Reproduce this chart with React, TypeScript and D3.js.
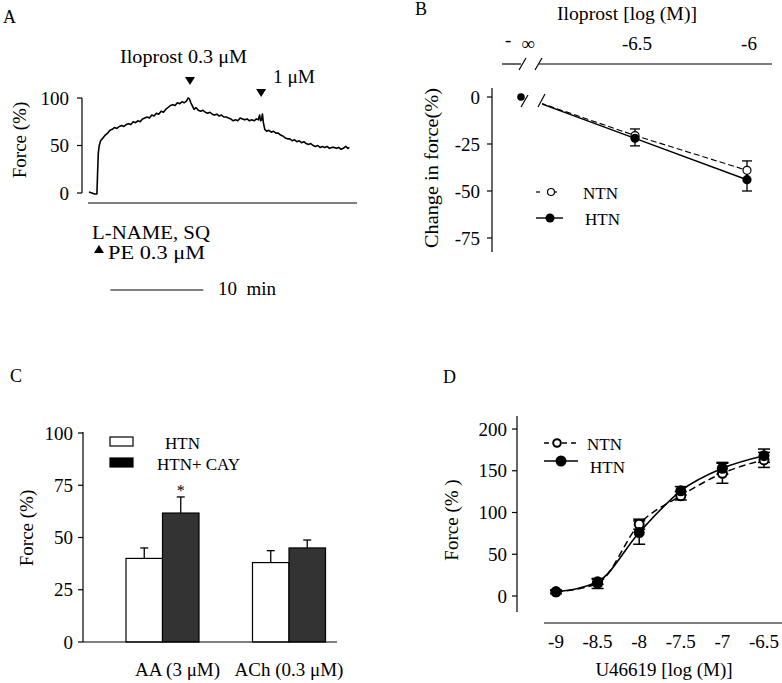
import React from 'react';
import * as d3 from 'd3';

const FONT = '"Liberation Serif", "Times New Roman", Times, serif';

// ---------- Panel A: force trace ----------
const traceTime = [0, 0.3, 0.6, 0.85, 0.92, 1.0, 1.1, 1.25, 1.5, 1.75, 2.0, 2.25, 2.5, 2.75, 3.0, 3.25, 3.5, 3.75, 4.0, 4.25, 4.5, 4.75, 5.0, 5.25, 5.5, 5.75, 6.0, 6.25, 6.5, 6.75, 7.0, 7.25, 7.5, 7.75, 8.0, 8.25, 8.5, 8.75, 9.0, 9.25, 9.5, 9.75, 10.0, 10.25, 10.5, 10.65, 10.8, 10.95, 11.1, 11.3, 11.5, 11.75, 12.0, 12.25, 12.5, 12.75, 13.0, 13.25, 13.5, 13.75, 14.0, 14.25, 14.5, 14.75, 15.0, 15.25, 15.5, 15.75, 16.0, 16.25, 16.5, 16.75, 17.0, 17.25, 17.5, 17.75, 18.0, 18.2, 18.35, 18.45, 18.55, 18.65, 18.75, 18.9, 19.1, 19.35, 19.6, 19.85, 20.1, 20.35, 20.6, 20.85, 21.1, 21.35, 21.6, 21.85, 22.1, 22.35, 22.6, 22.85, 23.1, 23.35, 23.6, 23.85, 24.1, 24.35, 24.6, 24.85, 25.1, 25.35, 25.6, 25.85, 26.1, 26.35, 26.6, 26.85, 27.1, 27.35, 27.6, 27.85, 28.0];
const traceForce = [1, 0, -1, -1, 20, 42, 50, 55, 58, 61, 63, 66, 67, 69, 68, 70, 71, 70, 72, 73, 72, 75, 74, 76, 75, 78, 79, 80, 79, 82, 81, 84, 83, 86, 85, 88, 90, 92, 93, 92, 95, 94, 96, 95, 97, 100, 99, 95, 92, 88, 90, 87, 86, 87, 85, 84, 85, 83, 82, 83, 81, 82, 80, 80, 79, 78, 76, 77, 76, 79, 78, 77, 78, 76, 77, 76, 78, 77, 82, 76, 77, 83, 74, 67, 65, 66, 64, 65, 63, 63, 61, 60, 58, 57, 57, 55, 56, 54, 55, 53, 54, 52, 51, 52, 50, 49, 50, 48, 49, 48, 49, 47, 48, 48, 47, 48, 46, 47, 49, 47, 48];
const aYTicks = [0, 50, 100];
const arrowTimes = [10.75, 18.4];
const arrowLabels = ['Iloprost 0.3 μM', '1 μM'];

// ---------- Panel B: iloprost ----------
const bDoses = [-7, -6.5, -6]; // -7 stands in for -∞
const bTickLabels = ['∞', '-6.5', '-6'];
const bNTN = [0, -20.5, -39];
const bNTNerr = [0, 3.5, 5];
const bHTN = [0, -22, -44];
const bHTNerr = [0, 4, 6];
const bYTicks = [0, -25, -50, -75];

// ---------- Panel C: bars ----------
const cGroups = ['AA (3 μM)', 'ACh (0.3 μM)'];
const cSeries = ['HTN', 'HTN+ CAY'];
const cHTN = [40, 38];
const cHTNerr = [5, 5.7];
const cCAY = [61.7, 45];
const cCAYerr = [7.7, 3.8];
const cYTicks = [0, 25, 50, 75, 100];

// ---------- Panel D: U46619 ----------
const dDoses = [-9, -8.5, -8, -7.5, -7, -6.5];
const dTickLabels = ['-9', '-8.5', '-8', '-7.5', '-7', '-6.5'];
const dNTN = [5, 15, 86, 120, 147, 163];
const dNTNerr = [2, 6, 6, 5, 12, 9];
const dHTN = [5, 17, 76, 126, 153, 168];
const dHTNerr = [2, 3, 14, 5, 7, 8];
const dYTicks = [0, 50, 100, 150, 200];

const T = { fontFamily: FONT, fill: '#000' } as const;

function PanelA() {
  const x = d3.scaleLinear().domain([0, 10]).range([89, 182]);
  const y = d3.scaleLinear().domain([0, 100]).range([193, 98]);
  const pts = traceTime.map((t, i) => [t, traceForce[i]] as [number, number]);
  const line = d3.line<[number, number]>().x(d => x(d[0])).y(d => y(d[1]));
  const arrowTipY = [85, 97];
  const tri = (cx: number, ty: number) => `M${cx - 5},${ty - 8}L${cx + 5},${ty - 8}L${cx},${ty}Z`;
  return (
    <g>
      <text x={3} y={23} fontSize={18} {...T}>A</text>
      <line x1={82} x2={82} y1={y(100)} y2={y(0)} stroke="#000" strokeWidth={1.2} />
      {aYTicks.map(v => (
        <g key={v}>
          <line x1={77} x2={82} y1={y(v)} y2={y(v)} stroke="#000" strokeWidth={1.2} />
          <text x={69} y={y(v)} dy="0.35em" textAnchor="end" fontSize={19} {...T}>{v}</text>
        </g>
      ))}
      <text transform={`translate(26,140) rotate(-90)`} textAnchor="middle" fontSize={19} {...T}>Force (%)</text>
      <line x1={88} x2={357} y1={203} y2={203} stroke="#000" strokeWidth={1.2} />
      <path d={line(pts) || ''} fill="none" stroke="#000" strokeWidth={1.6} strokeLinejoin="round" />
      {arrowTimes.map((t, i) => (
        <path key={i} d={tri(x(t) + 1, arrowTipY[i])} fill="#000" />
      ))}
      <text x={120} y={63} fontSize={19} textLength={127} lengthAdjust="spacingAndGlyphs" {...T}>{arrowLabels[0]}</text>
      <text x={273} y={83} fontSize={19} textLength={42} lengthAdjust="spacingAndGlyphs" {...T}>{arrowLabels[1]}</text>
      <text x={92} y={239} fontSize={19} textLength={118} lengthAdjust="spacingAndGlyphs" {...T}>L-NAME, SQ</text>
      <path d="M94,253L104,253L99,245Z" fill="#000" />
      <text x={108} y={259} fontSize={19} textLength={97} lengthAdjust="spacingAndGlyphs" {...T}>PE 0.3 μM</text>
      <line x1={x(2.3)} x2={x(12.3)} y1={290} y2={290} stroke="#000" strokeWidth={1.2} />
      <text x={218} y={295} fontSize={19} style={{ whiteSpace: 'pre' }} {...T}>10  min</text>
    </g>
  );
}

function PanelB() {
  const x = d3.scaleLinear().domain([-6.5, -6]).range([635, 747]);
  const y = d3.scaleLinear().domain([0, -75]).range([97, 238]);
  const ntn = bDoses.map((d, i) => [d, bNTN[i]] as [number, number]);
  const htn = bDoses.map((d, i) => [d, bHTN[i]] as [number, number]);
  const line = d3.line<[number, number]>().x(d => x(d[0])).y(d => y(d[1]));
  const ax = 492;
  return (
    <g>
      <defs>
        <clipPath id="bclip"><rect x={542} y={60} width={240} height={200} /></clipPath>
      </defs>
      <text x={415} y={15} fontSize={18} {...T}>B</text>
      <text x={557} y={20} fontSize={19} textLength={140} lengthAdjust="spacingAndGlyphs" {...T}>Iloprost [log (M)]</text>
      {/* top axis with break */}
      <line x1={502} x2={521} y1={64} y2={64} stroke="#000" strokeWidth={1.2} />
      <line x1={539} x2={772} y1={64} y2={64} stroke="#000" strokeWidth={1.2} />
      <line x1={519} x2={526} y1={70} y2={58} stroke="#000" strokeWidth={1.2} />
      <line x1={535} x2={542} y1={70} y2={58} stroke="#000" strokeWidth={1.2} />
      {bDoses.map((d, i) => (
        i === 0 ? (
          <g key={i}>
            <text x={x(d) - 18} y={46} fontSize={19} {...T}>-</text>
            <text x={x(d) + 5} y={50} textAnchor="middle" fontSize={19} {...T}>{bTickLabels[i]}</text>
          </g>
        ) : (
          <text key={i} x={x(d) + 2} y={50} textAnchor="middle" fontSize={19} {...T}>{bTickLabels[i]}</text>
        )
      ))}
      {/* left axis */}
      <line x1={ax} x2={ax} y1={88} y2={252} stroke="#000" strokeWidth={1.2} />
      {bYTicks.map(v => (
        <g key={v}>
          <line x1={ax - 5} x2={ax} y1={y(v)} y2={y(v)} stroke="#000" strokeWidth={1.2} />
          <text x={480} y={y(v)} dy="0.35em" textAnchor="end" fontSize={19} {...T}>{v}</text>
        </g>
      ))}
      <text transform={`translate(438,168) rotate(-90)`} textAnchor="middle" fontSize={19} textLength={160} lengthAdjust="spacingAndGlyphs" {...T}>Change in force(%)</text>
      {/* break marks in plot */}
      <line x1={521} x2={528} y1={107} y2={95} stroke="#000" strokeWidth={1.2} />
      <line x1={538} x2={545} y1={107} y2={94} stroke="#000" strokeWidth={1.2} />
      <g clipPath="url(#bclip)">
        <path d={line(ntn) || ''} fill="none" stroke="#000" strokeWidth={1.1} strokeDasharray="6,3" />
        <path d={line(htn) || ''} fill="none" stroke="#000" strokeWidth={1.4} />
      </g>
      {/* error bars */}
      {bDoses.map((d, i) => i === 0 ? null : (
        <g key={'e' + i} stroke="#000" strokeWidth={1.3}>
          <line x1={x(d)} x2={x(d)} y1={y(bNTN[i] + bNTNerr[i])} y2={y(bNTN[i] - bNTNerr[i])} />
          <line x1={x(d) - 5} x2={x(d) + 5} y1={y(bNTN[i] + bNTNerr[i])} y2={y(bNTN[i] + bNTNerr[i])} />
          <line x1={x(d)} x2={x(d)} y1={y(bHTN[i] + bHTNerr[i])} y2={y(bHTN[i] - bHTNerr[i])} />
          <line x1={x(d) - 5} x2={x(d) + 5} y1={y(bHTN[i] - bHTNerr[i])} y2={y(bHTN[i] - bHTNerr[i])} />
        </g>
      ))}
      {bDoses.map((d, i) => i === 0 ? null : (
        <circle key={'n' + i} cx={x(d)} cy={y(bNTN[i])} r={4} fill="#fff" stroke="#000" strokeWidth={1.2} />
      ))}
      {bDoses.map((d, i) => (
        <circle key={'h' + i} cx={x(d) - (i === 0 ? 2 : 0)} cy={y(bHTN[i])} r={i === 0 ? 3.8 : 4.6} fill="#000" />
      ))}
      {/* legend */}
      <line x1={536} x2={540} y1={192} y2={192} stroke="#000" strokeWidth={1.2} />
      <line x1={551} x2={557} y1={192} y2={192} stroke="#000" strokeWidth={1.2} />
      <circle cx={551} cy={192} r={3.5} fill="#fff" stroke="#000" strokeWidth={1.2} />
      <text x={583} y={199} fontSize={17} {...T}>NTN</text>
      <line x1={536} x2={563} y1={218} y2={218} stroke="#000" strokeWidth={1.4} />
      <circle cx={550} cy={218} r={4.5} fill="#000" />
      <text x={585} y={225} fontSize={17} {...T}>HTN</text>
    </g>
  );
}

function PanelC() {
  const y = d3.scaleLinear().domain([0, 100]).range([642, 433]);
  const gx = d3.scalePoint<string>().domain(cGroups).range([162.5, 289]);
  const sx = d3.scaleBand<string>().domain(cSeries).range([-36.5, 36.5]);
  const bw = sx.bandwidth();
  const vals = [cHTN, cCAY];
  const errs = [cHTNerr, cCAYerr];
  const fills = ['#fff', '#333'];
  const labelShift = [15, 0];
  return (
    <g>
      <text x={10} y={382} fontSize={18} {...T}>C</text>
      <line x1={83} x2={83} y1={432} y2={642} stroke="#000" strokeWidth={1.2} />
      {cYTicks.map(v => (
        <g key={v}>
          <line x1={78} x2={83} y1={y(v)} y2={y(v)} stroke="#000" strokeWidth={1.2} />
          <text x={73} y={y(v)} dy="0.35em" textAnchor="end" fontSize={19} {...T}>{v}</text>
        </g>
      ))}
      <text transform={`translate(33,528) rotate(-90)`} textAnchor="middle" fontSize={19} {...T}>Force (%)</text>
      {cGroups.map((g, gi) => (
        <g key={g}>
          {cSeries.map((s, si) => {
            const x0 = (gx(g) || 0) + (sx(s) || 0);
            const v = vals[si][gi];
            const e = errs[si][gi];
            const cx = x0 + bw / 2;
            return (
              <g key={s}>
                <line x1={cx} x2={cx} y1={y(v)} y2={y(v + e)} stroke="#000" strokeWidth={1.3} />
                <line x1={cx - 4} x2={cx + 4} y1={y(v + e)} y2={y(v + e)} stroke="#000" strokeWidth={1.3} />
                <rect x={x0} y={y(v)} width={bw} height={y(0) - y(v)} fill={fills[si]} stroke="#000" strokeWidth={1.2} />
              </g>
            );
          })}
          <text x={(gx(g) || 0) + labelShift[gi]} y={676} textAnchor="middle" fontSize={19} {...T}>{g}</text>
        </g>
      ))}
      <text x={(gx(cGroups[0]) || 0) + (sx(cSeries[1]) || 0) + bw / 2} y={496} textAnchor="middle" fontSize={16} {...T}>*</text>
      <line x1={83} x2={337} y1={642} y2={642} stroke="#000" strokeWidth={1.2} />
      {/* legend */}
      <rect x={110} y={437} width={23} height={9} fill={fills[0]} stroke="#000" strokeWidth={1.2} />
      <text x={165} y={449} fontSize={17} {...T}>{cSeries[0]}</text>
      <rect x={110} y={458} width={23} height={9} fill="#000" stroke="#000" strokeWidth={1.2} />
      <text x={157} y={470} fontSize={17} {...T}>{cSeries[1]}</text>
    </g>
  );
}

function PanelD() {
  const x = d3.scaleLinear().domain([-9, -6.5]).range([556, 764]);
  const y = d3.scaleLinear().domain([0, 200]).range([596, 429]);
  const ntn = dDoses.map((d, i) => [d, dNTN[i]] as [number, number]);
  const htn = dDoses.map((d, i) => [d, dHTN[i]] as [number, number]);
  const line = d3.line<[number, number]>().x(d => x(d[0])).y(d => y(d[1])).curve(d3.curveMonotoneX);
  return (
    <g>
      <text x={443} y={383} fontSize={18} {...T}>D</text>
      <line x1={517} x2={517} y1={416} y2={612} stroke="#000" strokeWidth={1.2} />
      {dYTicks.map(v => (
        <g key={v}>
          <line x1={512} x2={517} y1={y(v)} y2={y(v)} stroke="#000" strokeWidth={1.2} />
          <text x={507} y={y(v)} dy="0.35em" textAnchor="end" fontSize={19} {...T}>{v}</text>
        </g>
      ))}
      <text transform={`translate(458,520) rotate(-90)`} textAnchor="middle" fontSize={19} style={{ whiteSpace: 'pre' }} {...T}>Force (% )</text>
      <line x1={544} x2={782} y1={623} y2={623} stroke="#000" strokeWidth={1.2} />
      {dDoses.map((d, i) => (
        <text key={d} x={x(d)} y={648} textAnchor="middle" fontSize={19} {...T}>{dTickLabels[i]}</text>
      ))}
      <text x={664} y={676} textAnchor="middle" fontSize={19} {...T}>U46619 [log (M)]</text>
      <path d={line(ntn) || ''} fill="none" stroke="#000" strokeWidth={1.5} strokeDasharray="7,4" />
      <path d={line(htn) || ''} fill="none" stroke="#000" strokeWidth={1.6} />
      {dDoses.map((d, i) => (
        <g key={'e' + d} stroke="#000" strokeWidth={1.5}>
          <line x1={x(d)} x2={x(d)} y1={y(dNTN[i] + dNTNerr[i])} y2={y(dNTN[i] - dNTNerr[i])} />
          <line x1={x(d) - 6} x2={x(d) + 6} y1={y(dNTN[i] + dNTNerr[i])} y2={y(dNTN[i] + dNTNerr[i])} />
          <line x1={x(d) - 6} x2={x(d) + 6} y1={y(dNTN[i] - dNTNerr[i])} y2={y(dNTN[i] - dNTNerr[i])} />
          <line x1={x(d)} x2={x(d)} y1={y(dHTN[i] + dHTNerr[i])} y2={y(dHTN[i] - dHTNerr[i])} />
          <line x1={x(d) - 6} x2={x(d) + 6} y1={y(dHTN[i] + dHTNerr[i])} y2={y(dHTN[i] + dHTNerr[i])} />
          <line x1={x(d) - 6} x2={x(d) + 6} y1={y(dHTN[i] - dHTNerr[i])} y2={y(dHTN[i] - dHTNerr[i])} />
        </g>
      ))}
      {dDoses.map((d, i) => (
        <circle key={'n' + d} cx={x(d)} cy={y(dNTN[i])} r={4.5} fill="#fff" stroke="#000" strokeWidth={2} />
      ))}
      {dDoses.map((d, i) => (
        <circle key={'h' + d} cx={x(d)} cy={y(dHTN[i])} r={5.5} fill="#000" />
      ))}
      {/* legend */}
      <line x1={544} x2={576} y1={443} y2={443} stroke="#000" strokeWidth={1.5} strokeDasharray="5,4" />
      <circle cx={557} cy={443} r={3.8} fill="#fff" stroke="#000" strokeWidth={2} />
      <text x={587} y={450} fontSize={17} {...T}>NTN</text>
      <line x1={544} x2={578} y1={461} y2={461} stroke="#000" strokeWidth={1.6} />
      <circle cx={561} cy={461} r={5.5} fill="#000" />
      <text x={590} y={473} fontSize={17} {...T}>HTN</text>
    </g>
  );
}

export default function App() {
  return (
    <svg width={782} height={683} viewBox="0 0 782 683"
      style={{ position: 'absolute', left: 0, top: 0, background: '#fff' }}>
      <rect x={0} y={0} width={782} height={683} fill="#fff" />
      <PanelA />
      <PanelB />
      <PanelC />
      <PanelD />
    </svg>
  );
}
